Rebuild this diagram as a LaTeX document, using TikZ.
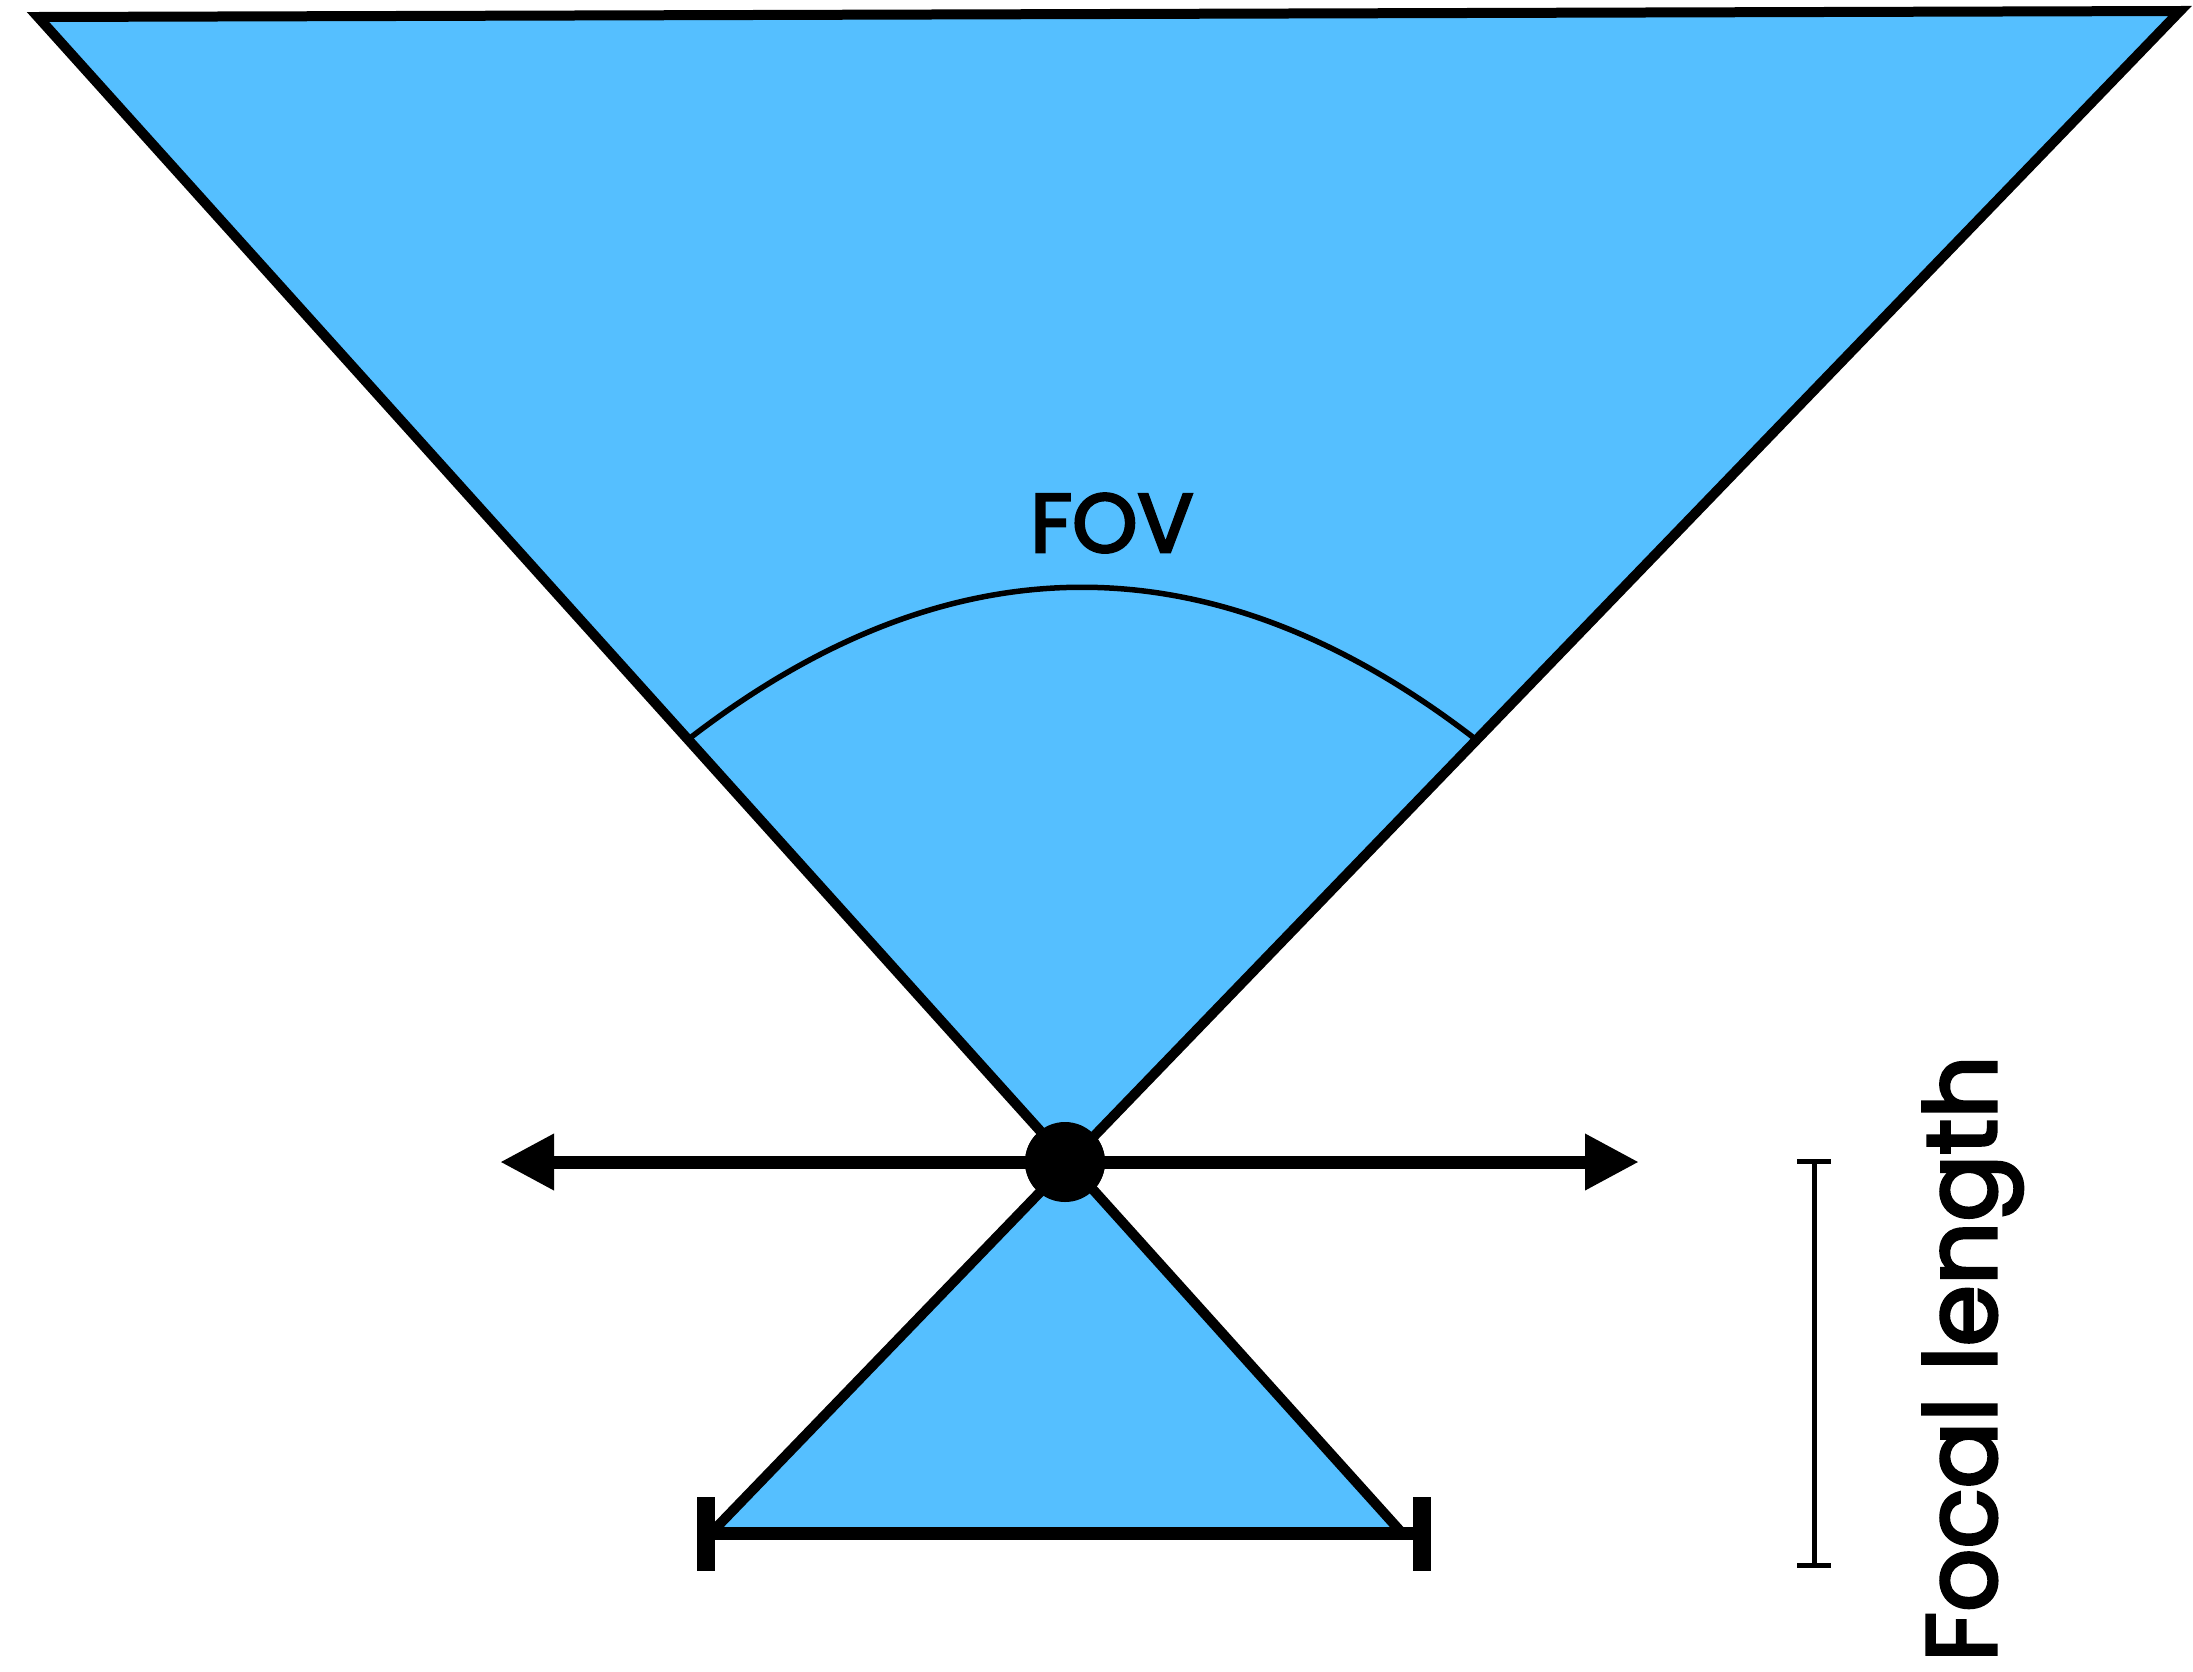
\documentclass[tikz,border=0pt]{standalone}
\usepackage{fontspec}
\setmainfont{Poppins}[FakeBold=3.3]
\usetikzlibrary{arrows.meta}
\definecolor{fovblue}{RGB}{85,191,255}
\begin{document}
\begin{tikzpicture}[x=1pt,y=-1pt,
  edge/.style={line width=10pt,line join=miter},
  thin/.style={line width=5.5pt},
  lbl/.style={inner sep=0pt,font=\fontsize{83pt}{90pt}\selectfont}]
\useasboundingbox (0,0) rectangle (2193,1671);
\coordinate (tl) at (38,17);
\coordinate (tr) at (2180,11);
\node[circle,fill=black,minimum size=80pt,inner sep=0pt] (c) at (1065,1162) {};
\coordinate (bl) at (712,1532);
\coordinate (br) at (1402,1533);
\fill[fovblue] (tl) -- (tr) -- (c.center) -- cycle;
\fill[fovblue] (c.center) -- (bl) -- (br) -- cycle;
\draw[edge] (br) -- (tl) -- (tr) -- (bl);
% FOV arc
\coordinate (a1) at (690,738);
\coordinate (a2) at (1474,738);
\draw[thin] (a1) .. controls (951,537) and (1213,537) .. (a2);
\node[lbl,anchor=base] (fov) at (1112,552) {FOV};
% sensor bracket
\coordinate (s1) at (706,1533);
\coordinate (s2) at (1422,1533);
\draw[line width=13pt] (s1) -- (s2);
\draw[line width=18pt] (706,1497) -- (706,1571) (1422,1497) -- (1422,1571);
% horizontal arrows
\coordinate (la) at (500,1162);
\coordinate (ra) at (1639,1162);
\draw[line width=13pt,-{Triangle[length=54pt,width=53pt]}] (c.center) -- (la);
\draw[line width=13pt,-{Triangle[length=54pt,width=53pt]}] (c.center) -- (ra);
\node[circle,fill=black,minimum size=80pt,inner sep=0pt] at (c) {};
% focal length bar
\coordinate (f1) at (1814,1161);
\coordinate (f2) at (1814,1565);
\draw[line width=5pt] (f1) -- (f2);
\draw[line width=5pt] (1797,1161) -- (1831,1161) (1797,1565) -- (1831,1565);
\node[inner sep=0pt,rotate=90,anchor=base west,font=\fontsize{99pt}{104pt}\selectfont] (fl) at (1996,1662) {Focal length};
\end{tikzpicture}
\end{document}
